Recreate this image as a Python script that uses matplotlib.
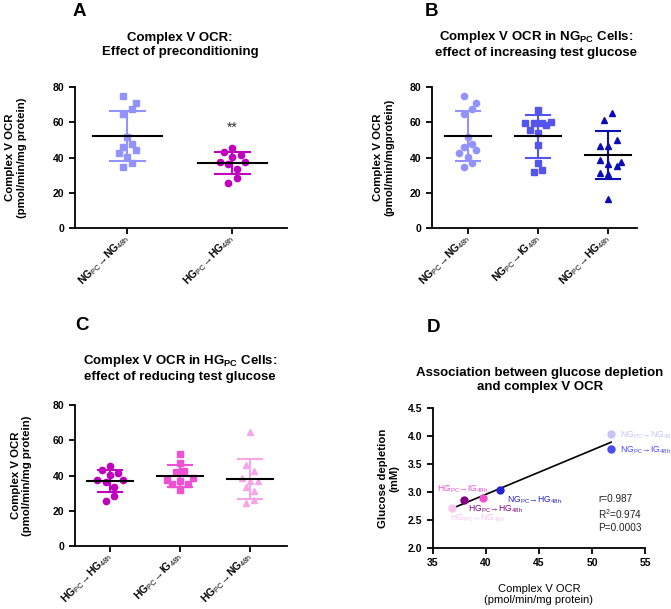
import numpy as np
import matplotlib
matplotlib.use('Agg')
import matplotlib.pyplot as plt

plt.rcParams['font.family'] = ['Liberation Sans', 'DejaVu Sans']
plt.rcParams['mathtext.fontset'] = 'custom'
plt.rcParams['mathtext.rm'] = 'Liberation Sans'
plt.rcParams['mathtext.bf'] = 'Liberation Sans:bold'
plt.rcParams['mathtext.it'] = 'Liberation Sans:italic'

# ---- data ----
# individual OCR values (pmol/min/mg protein) and their column slots
ng_ng_vals = [74.9, 70.7, 67.7, 64.7, 51.8, 46.1, 47.5, 44.3, 42.4, 40.1, 36.7, 34.8]
ng_ng_slots = [-1, 2, 1, -1, 0, -1, 1, 2, -2, 0, 1, -1]
hg_hg_vals = [43.3, 45.2, 41.4, 40.1, 37.6, 36.3, 37.3, 33.3, 28.2, 25.7]
hg_hg_slots = [-2, 0, 2, 0, -3, -1, 3, 1, 1, -1]
ng_ig_vals = [66.9, 59.8, 59.8, 59.8, 60.4, 58.5, 55.4, 53.9, 47.2, 37.1, 33.0, 31.6]
ng_ig_slots = [0, -3, -1, 1, 3, 2, -2, 0, 0, 0, 1, -1]
ng_hg_vals = [65.3, 61.5, 50.1, 46.3, 46.3, 38.7, 37.5, 36.2, 34.9, 31.0, 30.7, 16.2]
ng_hg_slots = [1, -1, 2, -2, 0, -2, 3, 0, 2, -2, 0, 0]
hg_ig_vals = [52.4, 47.2, 41.9, 42.5, 37.5, 36.8, 38.5, 34.9, 34.9, 31.8]
hg_ig_slots = [0, 0, -1, 1, -3, 0, 3, -2, 2, 0]
hg_ng_vals = [64.8, 45.7, 42.3, 38.7, 36.6, 36.8, 33.3, 31.0, 24.2, 26.1]
hg_ng_slots = [0, -1, 1, -2, 0, 2, -1, 1, -1, 1]

# mean and SD as drawn
means = {'ng_ng': 52.0, 'hg_hg': 36.8, 'ng_ig': 52.0, 'ng_hg': 41.3,
         'hg_ig': 39.8, 'hg_ng': 37.9}
sds = {'ng_ng': 14.1, 'hg_hg': 6.3, 'ng_ig': 12.0, 'ng_hg': 13.6,
       'hg_ig': 6.2, 'hg_ng': 11.5}

# panel D: mean OCR vs glucose depletion
d_names = ['NG_NG', 'NG_IG', 'NG_HG', 'HG_IG', 'HG_HG', 'HG_NG']
d_ocr = [51.8, 51.8, 41.3, 39.75, 37.96, 36.77]
d_gluc = [4.03, 3.76, 3.04, 2.89, 2.85, 2.71]

COL = {'ng_ng': '#9393ff', 'ng_ig': '#5555ee', 'ng_hg': '#0d0db5',
       'hg_hg': '#bf00bf', 'hg_ig': '#f050d2', 'hg_ng': '#f6a6e6'}
D_COL = {'NG_NG': '#c4c4f6', 'NG_IG': '#4a4af0', 'NG_HG': '#2222d0',
         'HG_IG': '#f04fd0', 'HG_HG': '#840084', 'HG_NG': '#f8c6ec'}

W, H = 671, 609
fig = plt.figure(figsize=(W / 100, H / 100), dpi=100)


def ax_px(left, right, top, bottom):
    return fig.add_axes([left / W, 1 - bottom / H, (right - left) / W, (bottom - top) / H])


def style(ax):
    for s in ['top', 'right']:
        ax.spines[s].set_visible(False)
    for s in ['left', 'bottom']:
        ax.spines[s].set_linewidth(1.3)
    ax.tick_params(width=1.3, length=4, labelsize=7.5)
    for lab in ax.get_yticklabels():
        lab.set_fontweight('bold')


def scatter_panel(ax, groups, labels, xlim, ylab, ypad):
    ax.set_xlim(*xlim)
    ax.set_ylim(0, 80)
    ax.set_yticks([0, 20, 40, 60, 80])
    style(ax)
    px_per_unit = ax.get_position().width * W / (xlim[1] - xlim[0])
    step = 4.2 / px_per_unit
    for i, (key, vals, slots, mk, ms) in enumerate(groups):
        x = i + np.array(slots) * step
        ax.plot(x, vals, mk, color=COL[key], ms=ms, mec=COL[key], ls='none', zorder=3)
        m, s = means[key], sds[key]
        ax.plot([i, i], [m - s, m + s], color=COL[key], lw=1.5, zorder=2)
        for yy in (m - s, m + s):
            ax.plot([i - 0.17, i + 0.17], [yy, yy], color=COL[key], lw=1.5, zorder=2)
        ax.plot([i - 0.33, i + 0.33], [m, m], color='black', lw=1.5, zorder=4)
    ax.set_xticks(range(len(groups)))
    ax.set_xticklabels(labels, rotation=45, ha='right', va='center',
                       rotation_mode='anchor', fontsize=7.5)
    ax.tick_params(axis='x', pad=2)
    ax.set_ylabel(ylab, fontsize=8.2, fontweight='bold', labelpad=ypad)


lab = {
    'ng_ng': r'$\mathbf{NG}_{\mathrm{PC}}\!\rightarrow\!\mathbf{NG}_{\mathrm{48h}}$',
    'hg_hg': r'$\mathbf{HG}_{\mathrm{PC}}\!\rightarrow\!\mathbf{HG}_{\mathrm{48h}}$',
    'ng_ig': r'$\mathbf{NG}_{\mathrm{PC}}\!\rightarrow\!\mathbf{IG}_{\mathrm{48h}}$',
    'ng_hg': r'$\mathbf{NG}_{\mathrm{PC}}\!\rightarrow\!\mathbf{HG}_{\mathrm{48h}}$',
    'hg_ig': r'$\mathbf{HG}_{\mathrm{PC}}\!\rightarrow\!\mathbf{IG}_{\mathrm{48h}}$',
    'hg_ng': r'$\mathbf{HG}_{\mathrm{PC}}\!\rightarrow\!\mathbf{NG}_{\mathrm{48h}}$',
}

# ---- A ----
axA = ax_px(75, 287, 87, 228)
scatter_panel(axA, [('ng_ng', ng_ng_vals, ng_ng_slots, 's', 4.2),
                    ('hg_hg', hg_hg_vals, hg_hg_slots, 'o', 4.5)],
              [lab['ng_ng'], lab['hg_hg']], (-0.5, 1.52),
              'Complex V OCR\n(pmol/min/mg protein)', 19)
axA.text(1, 56.6, '**', ha='center', va='center', fontsize=10, color='#333333')

# ---- B ----
axB = ax_px(432, 637, 87, 228)
scatter_panel(axB, [('ng_ng', ng_ng_vals, ng_ng_slots, 'o', 4.5),
                    ('ng_ig', ng_ig_vals, ng_ig_slots, 's', 4.2),
                    ('ng_hg', ng_hg_vals, ng_hg_slots, '^', 4.8)],
              [lab['ng_ng'], lab['ng_ig'], lab['ng_hg']], (-0.51, 2.41),
              'Complex V OCR\n(pmol/min/mgprotein)', 11)

# ---- C ----
axC = ax_px(75, 287, 405, 546)
scatter_panel(axC, [('hg_hg', hg_hg_vals, hg_hg_slots, 'o', 4.5),
                    ('hg_ig', hg_ig_vals, hg_ig_slots, 's', 4.2),
                    ('hg_ng', hg_ng_vals, hg_ng_slots, '^', 4.8)],
              [lab['hg_hg'], lab['hg_ig'], lab['hg_ng']], (-0.5, 2.53),
              'Complex V OCR\n(pmol/min/mg protein)', 15)

# ---- D ----
axD = ax_px(433, 645, 408, 548)
axD.set_xlim(35, 55)
axD.set_ylim(2.0, 4.5)
axD.set_xticks([35, 40, 45, 50, 55])
axD.set_yticks([2.0, 2.5, 3.0, 3.5, 4.0, 4.5])
axD.set_yticklabels(['%.1f' % v for v in [2.0, 2.5, 3.0, 3.5, 4.0, 4.5]])
style(axD)
for lbl in axD.get_xticklabels():
    lbl.set_fontweight('bold')
for n, x, y in zip(d_names, d_ocr, d_gluc):
    axD.plot(x, y, 'o', color=D_COL[n], ms=5, zorder=3)
k, b = np.polyfit(d_ocr, d_gluc, 1)
xs = np.array([min(d_ocr), max(d_ocr)])
axD.plot(xs, k * xs + b, color='black', lw=1.2, zorder=2)

d_text = {
    'NG_NG': (52.6, 4.02, r'NG$_{\mathrm{PC}}$→NG$_{\mathrm{48h}}$'),
    'NG_IG': (52.6, 3.74, r'NG$_{\mathrm{PC}}$→IG$_{\mathrm{48h}}$'),
    'NG_HG': (42.0, 2.86, r'NG$_{\mathrm{PC}}$→HG$_{\mathrm{48h}}$'),
    'HG_IG': (35.35, 3.05, r'HG$_{\mathrm{PC}}$→IG$_{\mathrm{48h}}$'),
    'HG_HG': (38.27, 2.69, r'HG$_{\mathrm{PC}}$→HG$_{\mathrm{48h}}$'),
    'HG_NG': (36.6, 2.53, r'HG$_{\mathrm{PC}}$→NG$_{\mathrm{48h}}$'),
}
for n in d_names:
    x, y, t = d_text[n]
    axD.text(x, y, t, color=D_COL[n], fontsize=6.2, ha='left', va='center', clip_on=False)
axD.text(50.6, 2.61, 'r=0.987\nR$^2$=0.974\nP=0.0003', fontsize=7.2, ha='left', va='center',
         linespacing=1.25, color='#222222')
axD.set_xlabel('Complex V OCR\n(pmol/min/mg protein)', fontsize=8, labelpad=11)
axD.set_ylabel('Glucose depletion\n(mM)', fontsize=8.2, fontweight='bold', labelpad=6)

# ---- titles and letters ----
fig.text(180 / W, 1 - 45 / H, 'Complex V OCR:\nEffect of preconditioning', ha='center',
         va='center', fontsize=9.5, fontweight='bold', linespacing=1.15)
fig.text(536 / W, 1 - 44 / H, 'Complex V OCR in NG$_{\\mathbf{PC}}$ Cells:\neffect of increasing test glucose',
         ha='center', va='center', fontsize=9.5, fontweight='bold', linespacing=1.2)
fig.text(180 / W, 1 - 368 / H, 'Complex V OCR in HG$_{\\mathbf{PC}}$ Cells:\neffect of reducing test glucose',
         ha='center', va='center', fontsize=9.5, fontweight='bold', linespacing=1.15)
fig.text(540 / W, 1 - 380 / H, 'Association between glucose depletion\nand complex V OCR',
         ha='center', va='center', fontsize=9.5, fontweight='bold', linespacing=1.15)
for letter, x, y in [('A', 73, 12), ('B', 425, 11), ('C', 75, 326), ('D', 427, 328)]:
    fig.text(x / W, 1 - y / H, letter, ha='left', va='center', fontsize=13.5, fontweight='bold')

fig.savefig('out.png', dpi=100)
